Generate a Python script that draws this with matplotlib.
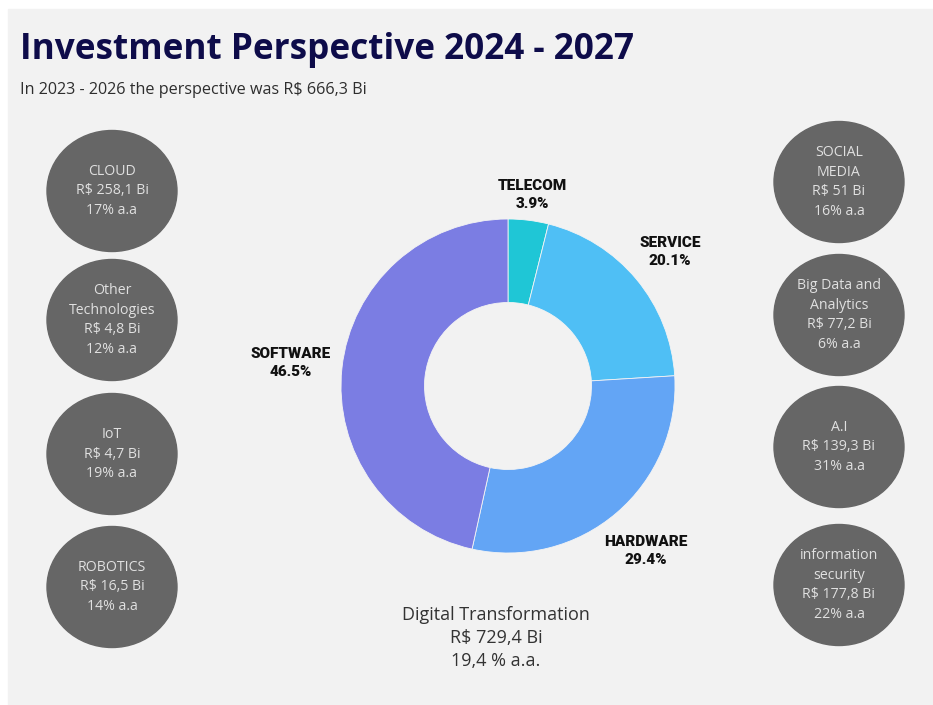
import matplotlib.pyplot as plt
from matplotlib.patches import Ellipse, Rectangle

# donut segments, clockwise from 12 o'clock
segments = ['TELECOM', 'SERVICE', 'HARDWARE', 'SOFTWARE']
shares = [3.9, 20.1, 29.4, 46.5]
seg_colors = ['#1fc6d6', '#4fbff5', '#63a5f5', '#7b7de3']

# technology bubbles: left column then right column
left_names = ['CLOUD', 'Other\nTechnologies', 'IoT', 'ROBOTICS']
left_values = [258.1, 4.8, 4.7, 16.5]
left_growth = [17, 12, 19, 14]
right_names = ['SOCIAL\nMEDIA', 'Big Data and\nAnalytics', 'A.I', 'information\nsecurity']
right_values = [51, 77.2, 139.3, 177.8]
right_growth = [16, 6, 31, 22]

total_value = 729.4
total_growth = 19.4
prev_value = 666.3


def brl(v):
    if v == int(v):
        return str(int(v))
    return ('%.1f' % v).replace('.', ',')


W, H = 933, 705
fig = plt.figure(figsize=(W / 100, H / 100), dpi=100)
fig.patch.set_facecolor('white')

# pixel-space canvas for the background, text and bubbles
bg = fig.add_axes([0, 0, 1, 1])
bg.set_xlim(0, W)
bg.set_ylim(H, 0)
bg.axis('off')
bg.add_patch(Rectangle((8, 9), W - 8, H - 9, color='#f2f2f2', zorder=0))

bg.text(20, 59, 'Investment Perspective 2024 - 2027', fontsize=25.3,
        fontweight='bold', family='Open Sans', color='#0e0c4a', va='baseline')
bg.text(20, 94, 'In 2023 - 2026 the perspective was R$ ' + brl(prev_value) + ' Bi',
        fontsize=11.6, family='Open Sans', color='#2e2e2e', va='baseline')

left_y = [191, 320, 454, 587]
right_y = [182, 315, 447, 585]
for names, vals, grow, xs, ys in [(left_names, left_values, left_growth, 112, left_y),
                                  (right_names, right_values, right_growth, 839, right_y)]:
    for n, v, g, y in zip(names, vals, grow, ys):
        bg.add_patch(Ellipse((xs, y), 130, 121, color='#666666', zorder=1))
        bg.text(xs, y, n + '\nR$ ' + brl(v) + ' Bi\n' + str(g) + '% a.a',
                ha='center', va='center', fontsize=10.2, family='Open Sans',
                color='#e0e0e0', linespacing=1.45, zorder=2)

bg.text(496, 638, 'Digital Transformation\nR$ ' + brl(total_value) + ' Bi\n'
        + brl(total_growth) + ' % a.a.', ha='center', va='center', fontsize=13,
        family='Open Sans', color='#333333', linespacing=1.35)

# donut chart centred at (508, 386) px with radius 167 px
cx, cy, r = 508, 386, 167
ax = fig.add_axes([(cx - r) / W, (H - cy - r) / H, 2 * r / W, 2 * r / H])
ax.pie(shares, colors=seg_colors, startangle=90, counterclock=False, radius=1,
       wedgeprops=dict(width=0.5, edgecolor='#f4f4f4', linewidth=0.6))
ax.set_xlim(-1, 1)
ax.set_ylim(-1, 1)
ax.axis('off')

label_pos = [(532, 195), (670, 252), (646, 551), (291, 363)]
for name, s, (lx, ly) in zip(segments, shares, label_pos):
    bg.text(lx, ly, name + '\n' + '%.1f%%' % s, ha='center', va='center',
            fontsize=11, fontweight='black', family='Roboto', color='#111111',
            linespacing=1.45)

fig.savefig('out.png', dpi=100)
